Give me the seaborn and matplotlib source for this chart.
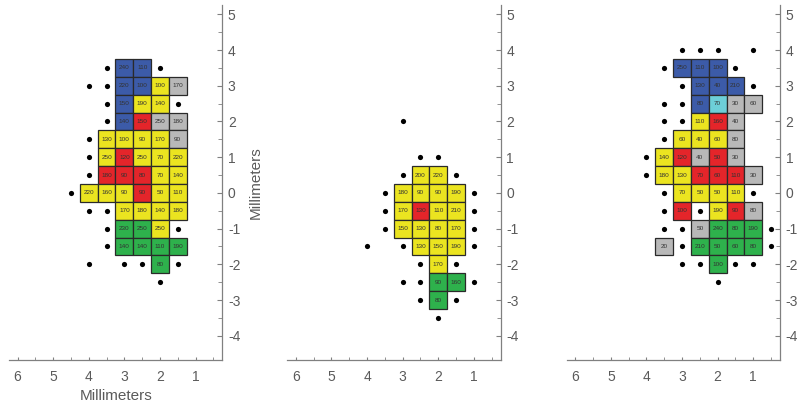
import matplotlib
matplotlib.use("Agg")
import matplotlib.pyplot as plt
import seaborn as sns
import pandas as pd

# grid positions (mm) of the stimulation sites
cols = [4.5, 4.0, 3.5, 3.0, 2.5, 2.0, 1.5, 1.0, 0.5]

# one string per row, one token per column:
# "-" nothing, "o" no response, letter+number = response class and threshold
panel_a = {
    3.5: "- - o B240 B110 o - - -",
    3.0: "- o o B220 B100 Y100 S170 - -",
    2.5: "- - o B150 Y190 Y140 o - -",
    2.0: "- - o B140 R150 S250 S180 - -",
    1.5: "- o Y130 Y100 Y90 Y170 S90 - -",
    1.0: "- o Y250 R120 Y250 Y70 Y220 - -",
    0.5: "- o R180 R90 R80 Y70 Y140 - -",
    0.0: "o Y220 Y160 Y90 R90 Y50 Y110 - -",
    -0.5: "- o o Y170 Y180 Y140 Y180 - -",
    -1.0: "- - o G230 G250 Y250 o - -",
    -1.5: "- - o G140 G140 G110 G190 - -",
    -2.0: "- o - o o G80 o - -",
    -2.5: "- - - - - o - - -",
}

panel_b = {
    2.0: "- - - o - - - - -",
    1.0: "- - - - o o - - -",
    0.5: "- - - o Y200 Y220 o - -",
    0.0: "- - o Y180 Y90 Y90 Y190 o -",
    -0.5: "- - o Y170 R130 Y110 Y210 o -",
    -1.0: "- - o Y150 Y130 Y80 Y170 o -",
    -1.5: "- o - o Y130 Y150 Y190 o -",
    -2.0: "- - - - o Y170 o - -",
    -2.5: "- - - o o G90 G160 o -",
    -3.0: "- - - - o G80 o - -",
    -3.5: "- - - - - o - - -",
}

panel_c = {
    4.0: "- - - o o o - o -",
    3.5: "- - o B250 B110 B100 o - -",
    3.0: "- - - o B130 B40 B210 o -",
    2.5: "- - o o B80 C70 S30 S60 -",
    2.0: "- - o o Y110 R160 S40 - -",
    1.5: "- - o Y60 Y40 Y60 S80 - -",
    1.0: "- o Y140 R120 S40 R50 S30 - -",
    0.5: "- o Y180 Y130 R70 R60 R110 S30 -",
    0.0: "- - o Y70 Y50 Y50 Y110 o -",
    -0.5: "- - o R100 o Y190 R90 S80 -",
    -1.0: "- - o o S50 G240 G80 G190 o",
    -1.5: "- - S20 o G210 G50 G60 G80 o",
    -2.0: "- - - o o G100 o o -",
    -2.5: "- - - - - o - - -",
}

colours = {
    "B": "#3c5ba8",
    "Y": "#ebe420",
    "R": "#e4252a",
    "G": "#2eb14c",
    "S": "#b8b8b8",
    "C": "#6dcfd8",
}


def parse(panel):
    cells, dots = [], []
    for y, line in panel.items():
        for x, tok in zip(cols, line.split()):
            if tok == "o":
                dots.append({"x": x, "y": y})
            elif tok != "-":
                cells.append({"x": x, "y": y, "kind": tok[0], "value": tok[1:]})
    return pd.DataFrame(cells), pd.DataFrame(dots)


sns.set_style("ticks")
plt.rcParams["font.family"] = ["Liberation Sans", "DejaVu Sans"]
plt.rcParams["axes.unicode_minus"] = False
grey = "#5a5a5a"

fig = plt.figure(figsize=(7.98, 4.08), dpi=100)
lefts = [0.0113, 0.360, 0.7101]

for i, panel in enumerate([panel_a, panel_b, panel_c]):
    ax = fig.add_axes([lefts[i], 0.1176, 0.2673, 0.870])
    cells, dots = parse(panel)

    ax.bar(cells["x"], 0.5, width=0.5, bottom=cells["y"] - 0.25,
           color=[colours[k] for k in cells["kind"]],
           edgecolor="#2a2a2a", linewidth=0.9, zorder=2)
    for _, c in cells.iterrows():
        ax.text(c["x"], c["y"], c["value"], ha="center", va="center",
                fontsize=4.6, color="#333333", zorder=3)

    sns.scatterplot(data=dots, x="x", y="y", ax=ax, color="black", s=14,
                    linewidth=0, legend=False, zorder=3)

    ax.set_xlim(6.24, 0.25)
    ax.set_ylim(-4.68, 5.26)

    ax.set_xticks([1, 2, 3, 4, 5, 6])
    ax.set_xticks([0.5, 1.5, 2.5, 3.5, 4.5, 5.5], minor=True)
    ax.set_yticks([-4, -3, -2, -1, 0, 1, 2, 3, 4, 5])
    ax.set_yticks([-3.5, -2.5, -1.5, -0.5, 0.5, 1.5, 2.5, 3.5, 4.5], minor=True)

    ax.yaxis.tick_right()
    ax.spines["left"].set_visible(False)
    ax.spines["top"].set_visible(False)
    for s in ["right", "bottom"]:
        ax.spines[s].set_color("#808080")
        ax.spines[s].set_linewidth(0.9)

    ax.tick_params(axis="x", which="both", direction="in", length=2.5,
                   color="#808080", labelsize=10, labelcolor=grey, pad=7)
    ax.tick_params(axis="y", which="major", direction="in", length=3.6,
                   color="#808080", labelsize=10, labelcolor=grey, pad=4)
    ax.tick_params(axis="y", which="minor", direction="in", length=3,
                   color="#808080")

    ax.set_xlabel("")
    ax.set_ylabel("")
    if i == 0:
        ax.set_xlabel("Millimeters", fontsize=11, color=grey, labelpad=4)
        ax.yaxis.set_label_position("right")
        ax.set_ylabel("Millimeters", fontsize=11, color=grey, labelpad=6)

fig.savefig("out.png", dpi=100)
